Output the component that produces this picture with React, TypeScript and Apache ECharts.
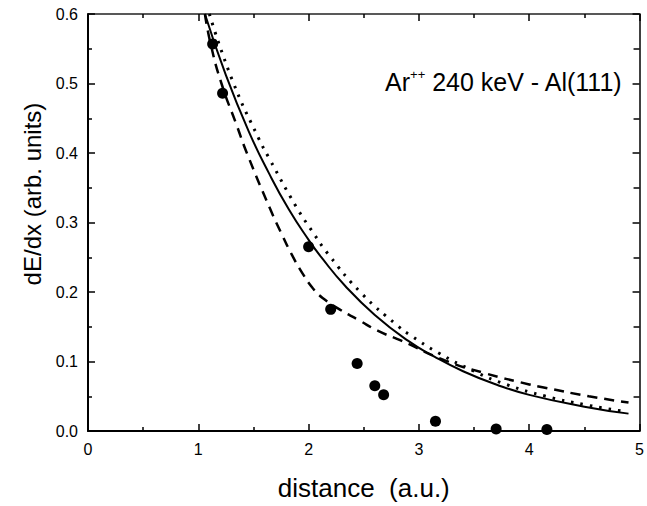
import React, { useEffect, useRef } from "react";
import * as echarts from "echarts";

// Experimental points
const pointX = [1.13, 1.22, 2.0, 2.2, 2.44, 2.6, 2.68, 3.15, 3.7, 4.16];
const pointY = [0.557, 0.486, 0.265, 0.175, 0.097, 0.065, 0.052, 0.014, 0.003, 0.002];

// Solid curve
const solidX = [1.06, 1.25, 1.46, 1.64, 1.82, 2.0, 2.12, 2.33, 2.6, 2.9, 3.14, 3.4, 3.7, 4.0, 4.5, 4.9];
const solidY = [0.6, 0.512, 0.43, 0.371, 0.319, 0.275, 0.249, 0.209, 0.167, 0.13, 0.107, 0.086, 0.067, 0.052, 0.035, 0.025];

// Dotted curve
const dottedX = [1.1, 1.31, 1.55, 1.64, 1.89, 2.03, 2.18, 2.48, 2.81, 2.93, 3.17, 3.5, 3.79, 4.15, 4.5, 4.87];
const dottedY = [0.6, 0.504, 0.42, 0.393, 0.322, 0.288, 0.254, 0.198, 0.151, 0.137, 0.113, 0.086, 0.067, 0.05, 0.038, 0.028];

// Dashed curve
const dashedX = [1.06, 1.11, 1.21, 1.35, 1.44, 1.65, 1.76, 1.85, 1.94, 2.04, 2.13, 2.28, 2.45, 2.63, 2.84, 3.23, 3.58, 4.0, 4.12, 4.54, 4.9];
const dashedY = [0.6, 0.558, 0.5, 0.439, 0.4, 0.32, 0.282, 0.253, 0.228, 0.205, 0.191, 0.175, 0.16, 0.144, 0.13, 0.102, 0.084, 0.067, 0.063, 0.05, 0.041];

const xTicks = [0, 1, 2, 3, 4, 5];
const yTickLabels = ["0.0", "0.1", "0.2", "0.3", "0.4", "0.5", "0.6"];

const zip = (xs: number[], ys: number[]) => xs.map((x, i) => [x, ys[i]]);

const FONT = "'Liberation Sans', Arial, sans-serif";

export default function App() {
  const ref = useRef<HTMLDivElement>(null);
  useEffect(() => {
    document.body.style.margin = "0";
    document.body.style.overflow = "hidden";
    document.documentElement.style.overflow = "hidden";
    const chart = echarts.init(ref.current!, null, { renderer: "svg" });
    const axisLine = { show: true, onZero: false, lineStyle: { color: "#000", width: 2 } };
    const tick = { show: true, inside: true, length: 7, lineStyle: { color: "#000", width: 1.5 } };
    const minor = { show: true, splitNumber: 2, length: 4, lineStyle: { color: "#000", width: 1.5 } };
    const option: any = {
      animation: false,
      backgroundColor: "#fff",
      grid: { left: 88, right: 3, top: 14, bottom: 72 },
      title: {
        text: "{a|Ar}{s|++}{a| 240 keV - Al(111)}",
        right: 19,
        top: 63,
        textStyle: {
          fontWeight: "normal",
          rich: {
            a: { fontFamily: FONT, fontSize: 25, fontWeight: "normal", color: "#000", lineHeight: 28 },
            s: { fontFamily: FONT, fontSize: 13, fontWeight: "normal", color: "#000", lineHeight: 13, verticalAlign: "top" },
          },
        },
      },
      graphic: [
        {
          type: "text",
          x: 32,
          y: 194,
          rotation: Math.PI / 2,
          style: {
            text: "dE/dx (arb. units)",
            fontFamily: FONT,
            fontSize: 24,
            fill: "#000",
            textAlign: "center",
            textVerticalAlign: "middle",
          },
        },
      ],
      xAxis: [
        {
          type: "value",
          min: xTicks[0],
          max: xTicks[xTicks.length - 1],
          interval: 1,
          position: "bottom",
          name: "distance  (a.u.)",
          nameLocation: "middle",
          nameGap: 44,
          nameTextStyle: { fontFamily: FONT, fontSize: 26, color: "#000" },
          axisLine,
          axisTick: tick,
          minorTick: minor,
          axisLabel: { fontFamily: FONT, fontSize: 16, color: "#000", margin: 10 },
          splitLine: { show: false },
        },
        {
          type: "value",
          min: xTicks[0],
          max: xTicks[xTicks.length - 1],
          interval: 1,
          position: "top",
          axisLine: { show: true, onZero: false, lineStyle: { color: "#222", width: 1.5 } },
          axisTick: tick,
          minorTick: minor,
          axisLabel: { show: false },
          splitLine: { show: false },
        },
      ],
      yAxis: [
        {
          type: "value",
          min: 0,
          max: 0.6,
          interval: 0.1,
          position: "left",
          axisLine,
          axisTick: tick,
          minorTick: minor,
          axisLabel: {
            fontFamily: FONT,
            fontSize: 16,
            color: "#000",
            margin: 10,
            formatter: (v: number) => yTickLabels[Math.round(v * 10)] ?? v.toFixed(1),
          },
          splitLine: { show: false },
        },
        {
          type: "value",
          min: 0,
          max: 0.6,
          interval: 0.1,
          position: "right",
          axisLine: { show: true, onZero: false, lineStyle: { color: "#000", width: 1.5 } },
          axisTick: tick,
          minorTick: { ...minor, length: 6 },
          axisLabel: { show: false },
          splitLine: { show: false },
        },
      ],
      series: [
        {
          type: "line",
          data: zip(solidX, solidY),
          smooth: 0.5,
          symbol: "none",
          clip: true,
          lineStyle: { color: "#000", width: 2 },
        },
        {
          type: "line",
          data: zip(dottedX, dottedY),
          smooth: 0.5,
          symbol: "none",
          clip: true,
          lineStyle: { color: "#000", width: 3, type: [2.5, 7], cap: "butt" },
        },
        {
          type: "line",
          data: zip(dashedX, dashedY),
          smooth: 0.5,
          symbol: "none",
          clip: true,
          lineStyle: { color: "#000", width: 2.5, type: [10, 7] },
        },
        {
          type: "scatter",
          data: zip(pointX, pointY),
          symbol: "circle",
          symbolSize: 11,
          itemStyle: { color: "#000", opacity: 1 },
          z: 5,
        },
      ],
    };
    chart.setOption(option);
    return () => chart.dispose();
  }, []);
  return <div ref={ref} style={{ width: 647, height: 506, overflow: "hidden" }} />;
}
